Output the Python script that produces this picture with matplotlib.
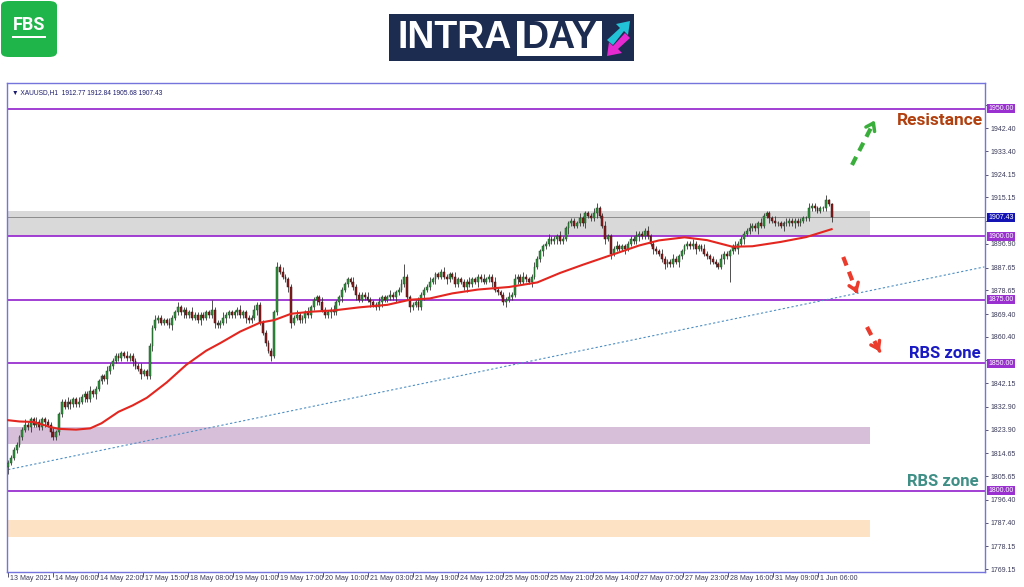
import numpy as np
import matplotlib
matplotlib.use("Agg")
import matplotlib.pyplot as plt
import matplotlib.transforms as mtransforms
from matplotlib.patches import FancyBboxPatch, Rectangle, Polygon

# ---- data (XAUUSD H1, 13 May - 1 Jun 2021) ----
first_open = 1809.5
closes = [
    # i0-19
    1811, 1813, 1816, 1818, 1821, 1824, 1826, 1825, 1828, 1826,
    1827, 1825, 1828, 1827, 1826, 1823, 1821, 1823, 1830, 1835,
    # i20-39
    1833, 1835, 1834, 1836, 1834, 1835, 1837, 1838, 1836, 1839,
    1838, 1840, 1843, 1845, 1844, 1847, 1849, 1851, 1853, 1852,
    # i40-59
    1854, 1853, 1852, 1853, 1851, 1849, 1848, 1846, 1847, 1845,
    1857, 1864, 1867, 1868, 1866, 1867, 1866, 1865, 1868, 1870,
    # i60-79
    1872, 1870, 1871, 1869, 1870, 1868, 1869, 1867, 1869, 1868,
    1870, 1869, 1871, 1866, 1865, 1866, 1868, 1869, 1870, 1869,
    # i80-99
    1870, 1871, 1869, 1870, 1868, 1867, 1868, 1871, 1873, 1866,
    1862, 1858, 1855, 1853, 1870, 1888, 1886, 1884, 1883, 1880,
    # i100-119
    1866, 1868, 1869, 1867, 1868, 1870, 1869, 1872, 1875, 1876,
    1874, 1871, 1869, 1870, 1871, 1870, 1874, 1876, 1879, 1881,
    # i120-139
    1883, 1882, 1880, 1877, 1875, 1877, 1876, 1875, 1874, 1873,
    1872, 1874, 1876, 1875, 1876, 1877, 1876, 1878, 1879, 1881,
    # i140-159
    1884, 1876, 1872, 1873, 1874, 1872, 1877, 1879, 1880, 1882,
    1883, 1885, 1884, 1886, 1884, 1883, 1885, 1884, 1881, 1883,
    # i160-179
    1882, 1880, 1882, 1881, 1883, 1882, 1884, 1883, 1882, 1883,
    1884, 1882, 1879, 1878, 1877, 1874, 1875, 1876, 1877, 1883,
    # i180-199
    1884, 1882, 1884, 1883, 1882, 1884, 1888, 1891, 1894, 1896,
    1897, 1899, 1898, 1899, 1900, 1898, 1899, 1903, 1905, 1906,
    # i200-219
    1904, 1905, 1907, 1905, 1909, 1908, 1907, 1909, 1911, 1908,
    1904, 1899, 1900, 1893, 1895, 1896, 1895, 1896, 1895, 1897,
    # i220-239
    1899, 1898, 1900, 1901, 1900, 1902, 1900, 1897, 1895, 1894,
    1893, 1891, 1889, 1890, 1889, 1891, 1890, 1892, 1894, 1896,
    # i240-259
    1897, 1896, 1897, 1895, 1896, 1895, 1893, 1892, 1891, 1890,
    1889, 1888, 1891, 1893, 1892, 1894, 1896, 1895, 1897, 1899,
    # i260-279
    1901, 1902, 1903, 1904, 1903, 1905, 1904, 1908, 1909, 1907,
    1906, 1905, 1905, 1904, 1905, 1905, 1906, 1905, 1906, 1905,
    # i280-291
    1906, 1907, 1907, 1911, 1912, 1911, 1910, 1911, 1911, 1914,
    1912.77, 1907.43,
]
# upper / lower wick length above/below the body, in dollars
wick_up = [
    1, 1, 1, 1, 1, 1, 2, 1, 1, 1, 2, 1, 1, 1, 1, 1, 2, 1, 1, 1,
    1, 2, 1, 1, 1, 2, 1, 1, 1, 2, 1, 1, 1, 1, 1, 2, 1, 1, 1, 1,
    1, 1, 2, 1, 1, 1, 1, 2, 1, 1, 1, 1, 2, 1, 1, 1, 1, 2, 1, 1,
    2, 1, 1, 1, 1, 2, 1, 1, 1, 1, 1, 1, 4, 1, 1, 1, 2, 1, 1, 1,
    1, 1, 2, 1, 1, 1, 1, 2, 1, 1, 1, 1, 1, 1, 1, 2, 1, 2, 1, 1,
    1, 1, 2, 1, 1, 1, 2, 1, 1, 1, 1, 2, 1, 1, 1, 2, 1, 1, 1, 1,
    1, 1, 2, 1, 1, 1, 1, 2, 1, 1, 1, 2, 1, 1, 1, 2, 1, 1, 1, 2,
    5, 1, 1, 1, 1, 2, 1, 1, 1, 2, 1, 1, 1, 1, 2, 1, 1, 1, 2, 1,
    1, 1, 1, 2, 1, 1, 1, 1, 2, 1, 1, 1, 2, 1, 1, 1, 1, 2, 1, 2,
    1, 1, 2, 1, 1, 1, 2, 1, 1, 1, 1, 2, 1, 1, 1, 2, 1, 1, 1, 1,
    1, 1, 2, 1, 1, 1, 1, 2, 2, 1, 1, 2, 1, 1, 1, 2, 1, 1, 1, 1,
    1, 1, 2, 1, 1, 1, 2, 1, 1, 1, 1, 2, 1, 1, 1, 2, 1, 1, 1, 1,
    1, 1, 2, 1, 1, 1, 2, 1, 1, 1, 1, 1, 2, 1, 1, 1, 1, 2, 1, 1,
    1, 1, 2, 1, 1, 1, 2, 1, 1, 1, 1, 2, 1, 1, 1, 2, 1, 1, 1, 1,
    1, 1, 1, 2, 1, 1, 1, 1, 1, 2, 0.5, 0.07,
]
wick_dn = [
    3, 1, 1, 1, 1, 1, 1, 1, 2, 1, 1, 1, 1, 2, 1, 2, 1, 1, 1, 1,
    1, 1, 2, 1, 1, 1, 1, 2, 1, 1, 1, 2, 1, 1, 1, 2, 1, 1, 1, 1,
    1, 1, 1, 1, 2, 1, 1, 2, 1, 1, 1, 2, 1, 1, 1, 1, 1, 1, 2, 1,
    1, 1, 2, 1, 1, 1, 1, 1, 2, 1, 1, 1, 1, 2, 1, 1, 1, 2, 1, 1,
    1, 1, 1, 1, 2, 1, 1, 1, 2, 1, 1, 1, 1, 2, 1, 1, 1, 1, 1, 2,
    2, 1, 1, 1, 1, 2, 1, 1, 1, 2, 1, 1, 1, 1, 2, 1, 1, 1, 2, 1,
    1, 1, 1, 2, 1, 1, 1, 1, 2, 1, 1, 1, 2, 1, 1, 1, 1, 2, 1, 1,
    1, 1, 2, 1, 1, 1, 1, 2, 1, 1, 1, 2, 1, 1, 1, 2, 1, 1, 1, 1,
    1, 1, 2, 1, 1, 1, 2, 1, 1, 1, 1, 2, 1, 1, 1, 1, 2, 1, 1, 1,
    2, 1, 1, 1, 1, 2, 1, 1, 1, 2, 1, 1, 1, 1, 2, 1, 1, 1, 2, 1,
    1, 1, 1, 1, 2, 1, 1, 1, 2, 1, 1, 2, 1, 2, 1, 1, 1, 1, 2, 1,
    1, 1, 1, 2, 1, 1, 1, 1, 2, 1, 1, 1, 2, 1, 1, 1, 1, 2, 1, 1,
    1, 1, 1, 2, 1, 1, 1, 1, 2, 1, 1, 1, 1, 2, 1, 10, 1, 1, 2, 1,
    2, 1, 1, 1, 1, 2, 1, 1, 1, 2, 1, 1, 1, 1, 2, 1, 1, 1, 2, 1,
    1, 1, 1, 1, 1, 1, 1, 1, 1, 1, 1, 1.75,
]

# moving average (sampled at bar index)
ma_idx = [0, 4, 9, 15, 18, 24, 29, 33, 39, 44, 49, 56, 63, 70, 75, 82, 89, 94,
          100, 107, 115, 124, 134, 142, 149, 157, 166, 177, 187, 195, 203, 213,
          223, 230, 239, 247, 256, 263, 273, 282, 291]
ma_val = [1827.7, 1827.2, 1827.0, 1825.0, 1824.3, 1824.0, 1824.5, 1826.5, 1831.0,
          1833.5, 1836.5, 1842.5, 1849.5, 1855.0, 1858.0, 1862.5, 1866.0, 1867.0,
          1869.5, 1870.3, 1870.8, 1872.0, 1873.0, 1875.0, 1875.5, 1877.5, 1879.0,
          1880.0, 1881.8, 1885.5, 1888.7, 1892.5, 1896.3, 1898.3, 1899.5, 1898.4,
          1895.8, 1896.0, 1897.7, 1899.6, 1902.7]

# dotted trend line (bar index, price)
trend_idx = [0, 345]
trend_val = [1808.3, 1887.9]

levels = [1950.00, 1900.00, 1875.00, 1850.00, 1800.00]
last_price = 1907.43
zones = [(1900.0, 1909.7, "#d9d9d9"), (1818.4, 1825.0, "#d7bfd9"), (1782.0, 1788.7, "#fde3c4")]
zone_end = 304.6

ytick_vals = [1769.15, 1778.15, 1787.40, 1796.40, 1805.65, 1814.65, 1823.90, 1832.90,
              1842.15, 1851.15, 1860.40, 1869.40, 1878.65, 1887.65, 1896.90, 1905.90,
              1915.15, 1924.15, 1933.40, 1942.40, 1951.65]
# these sit under the boxed level labels in the reference
hidden_ticks = [1851.15, 1905.90, 1951.65]
date_labels = ["13 May 2021", "14 May 06:00", "14 May 22:00", "17 May 15:00", "18 May 08:00",
               "19 May 01:00", "19 May 17:00", "20 May 10:00", "21 May 03:00", "21 May 19:00",
               "24 May 12:00", "25 May 05:00", "25 May 21:00", "26 May 14:00", "27 May 07:00",
               "27 May 23:00", "28 May 16:00", "31 May 09:00", "1 Jun 06:00"]

# ---- figure ----
W, H = 1024, 587
fig = plt.figure(figsize=(W / 100, H / 100), dpi=100)
plt.rcParams['font.family'] = ['Liberation Sans', 'DejaVu Sans']

def fx(x):
    return x / W

def fy(y):
    return 1 - y / H

ax = fig.add_axes([fx(7), fy(572), fx(985) - fx(7), fy(83) - fy(572)])
frame = "#7474dc"
for s in ax.spines.values():
    s.set_color(frame)
    s.set_linewidth(1.0)
ax.set_xlim(-0.4, 345.2)
ax.set_ylim(1768.1, 1960.1)

# zones
for lo, hi, c in zones:
    ax.add_patch(Rectangle((-0.4, lo), zone_end + 0.4, hi - lo, facecolor=c, edgecolor="none", zorder=0))

# levels
for lv in levels:
    ax.axhline(lv, color="#9b30d0", lw=1.3, zorder=1)
ax.axhline(last_price, color="#8c8c8c", lw=0.7, zorder=1)

# trend line
ax.plot(trend_idx, trend_val, color="#4d8fc4", lw=0.8, ls=(0, (2, 2)), zorder=1)

# candles
c = np.array(closes, dtype=float)
o = np.concatenate([[first_open], c[:-1]])
top = np.maximum(o, c)
bot = np.minimum(o, c)
hi = top + np.array(wick_up, dtype=float)
lo = bot - np.array(wick_dn, dtype=float)
x = np.arange(len(c))
ax.vlines(x, lo, hi, color="#333333", lw=0.6, zorder=2)
bull = c >= o
ax.bar(x[bull], (top - bot)[bull], bottom=bot[bull], width=0.66, color="#2f933c",
       edgecolor="#1d4d22", lw=0.35, zorder=3)
ax.bar(x[~bull], (top - bot)[~bull], bottom=bot[~bull], width=0.66, color="#8b1d1d",
       edgecolor="#3a1010", lw=0.35, zorder=3)

# moving average
ax.plot(ma_idx, ma_val, color="#e3261f", lw=1.5, zorder=4)

# arrows
def dash_arrow(x0, y0, x1, y1, color):
    ax.plot([x0, x1 - (x1 - x0) * 0.12], [y0, y1 - (y1 - y0) * 0.12], color=color,
            lw=3, ls=(0, (2.2, 1.6)), zorder=5, solid_capstyle="butt")
    ax.annotate("", xy=(x1, y1), xytext=(x1 - (x1 - x0) * 0.2, y1 - (y1 - y0) * 0.2),
                arrowprops=dict(arrowstyle="->,head_length=0.5,head_width=0.35",
                                color=color, lw=2.5), zorder=5)

dash_arrow(298.2, 1927.9, 306.7, 1946.4, "#3aae3a")
dash_arrow(295.1, 1891.8, 300.4, 1876.5, "#ea3b2c")
dash_arrow(303.5, 1864.3, 308.5, 1853.7, "#ea3b2c")

# annotation texts
ax.text(344.5, 1945.3, "Resistance", color="#b2400f", fontsize=12.5, fontweight="bold",
        ha="right", va="center", family="Roboto", zorder=6)
ax.text(343.5, 1853.8, "RBS zone", color="#1a1ac4", fontsize=12, fontweight="bold",
        ha="right", va="center", family="Roboto", zorder=6)
ax.text(342.8, 1803.5, "RBS zone", color="#3f8f86", fontsize=12, fontweight="bold",
        ha="right", va="center", family="Roboto", zorder=6)

# header
ax.text(0.005, 0.987, "\u25BC XAUUSD,H1  1912.77 1912.84 1905.68 1907.43", transform=ax.transAxes,
        fontsize=4.8, color="#1c1c6e", ha="left", va="top", family=["Liberation Sans", "DejaVu Sans"])

# y axis on right
ax.yaxis.tick_right()
ax.set_yticks(ytick_vals)
ax.set_yticklabels(["" if v in hidden_ticks else f"{v:.2f}" for v in ytick_vals])
ax.tick_params(axis="y", labelsize=5.0, colors="#3a3a5a", length=2, pad=2, width=0.6)
for t in ax.yaxis.get_ticklines():
    t.set_color(frame)

trans = mtransforms.blended_transform_factory(ax.transAxes, ax.transData)
for lv in levels:
    ax.text(1.0035, lv, f"{lv:.2f}", transform=trans, fontsize=5.0, color="white",
            ha="left", va="center", zorder=10, clip_on=False,
            bbox=dict(boxstyle="square,pad=0.15", fc="#9b30d0", ec="none"))
ax.text(1.0035, last_price, f"{last_price:.2f}", transform=trans, fontsize=5.0, color="white",
        ha="left", va="center", zorder=10, clip_on=False,
        bbox=dict(boxstyle="square,pad=0.15", fc="#1414b4", ec="none"))

# x axis
ax.set_xticks(np.arange(len(date_labels)) * 15.9)
ax.set_xticklabels(date_labels)
ax.tick_params(axis="x", labelsize=5.1, colors="#3a3a5a", length=3.5, pad=-1, width=0.6)
for t in ax.xaxis.get_ticklines():
    t.set_color(frame)
offset = mtransforms.ScaledTranslation(2 / 100, 0, fig.dpi_scale_trans)
for lab in ax.get_xticklabels():
    lab.set_horizontalalignment("left")
    lab.set_transform(lab.get_transform() + offset)

# ---- logos ----
fig.patches.append(FancyBboxPatch((fx(1), fy(57)), fx(56), fy(1) - fy(57),
                                  boxstyle="round,pad=0,rounding_size=0.008",
                                  transform=fig.transFigure, fc="#20b54a", ec="none"))
fig.text(fx(29), fy(25), "FBS", color="white", fontsize=13, fontweight="bold",
         ha="center", va="center", family="Roboto")
fig.patches.append(Rectangle((fx(12), fy(38)), fx(34), fy(36) - fy(38),
                             transform=fig.transFigure, fc="white", ec="none"))

fig.patches.append(Rectangle((fx(389), fy(61)), fx(245), fy(14) - fy(61),
                             transform=fig.transFigure, fc="#1c2b50", ec="none"))
fig.patches.append(Rectangle((fx(517), fy(56)), fx(85), fy(21) - fy(56),
                             transform=fig.transFigure, fc="white", ec="none"))
fig.text(fx(398), fy(38), "INTRA", color="white", fontsize=27, fontweight="bold",
         ha="left", va="center", family="Liberation Sans")
fig.text(fx(521), fy(38), "DAY", color="#1c2b50", fontsize=27, fontweight="bold",
         ha="left", va="center", family="Liberation Sans")
# arrow icon
fig.patches.append(Polygon([(fx(607), fy(40)), (fx(620), fy(28)), (fx(616), fy(24)),
                            (fx(630), fy(21)), (fx(628), fy(35)), (fx(624), fy(31)),
                            (fx(613), fy(45))], closed=True, transform=fig.transFigure,
                           fc="#22c3d6", ec="none"))
fig.patches.append(Polygon([(fx(630), fy(38)), (fx(618), fy(49)), (fx(622), fy(53)),
                            (fx(607), fy(56)), (fx(609), fy(42)), (fx(613), fy(46)),
                            (fx(625), fy(33))], closed=True, transform=fig.transFigure,
                           fc="#e62ad2", ec="none"))

fig.savefig("out.png", dpi=100, facecolor="white")
